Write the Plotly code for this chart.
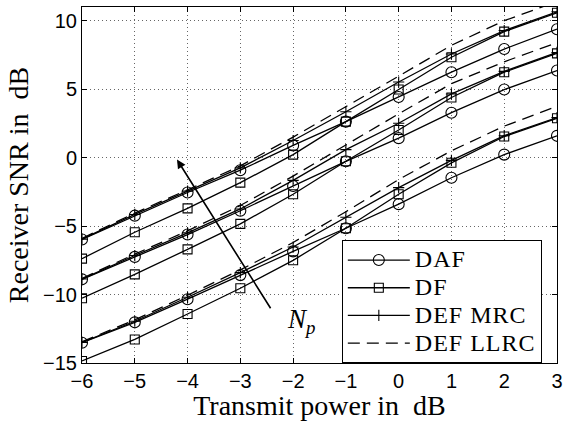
import plotly.graph_objects as go

# Transmit power (dB)
power_db = [-6, -5, -4, -3, -2, -1, 0, 1, 2, 3]

# Receiver SNR (dB), three groups of N_p (high / mid / low curves)
daf_hi = [-5.98, -4.24, -2.55, -0.92, 0.89, 2.63, 4.43, 6.24, 7.93, 9.38]
df_hi = [-7.38, -5.45, -3.71, -1.83, 0.22, 2.63, 4.97, 7.33, 9.20, 10.58]
mrc_hi = [-5.95, -4.15, -2.45, -0.75, 1.25, 3.35, 5.52, 7.57, 9.28, 10.65]
llrc_hi = [-5.90, -4.05, -2.35, -0.60, 1.50, 3.70, 5.95, 8.20, 10.00, 11.40]

daf_mid = [-8.89, -7.25, -5.62, -3.88, -2.07, -0.27, 1.42, 3.28, 4.97, 6.36]
df_mid = [-10.27, -8.53, -6.70, -4.84, -2.68, -0.27, 2.02, 4.39, 6.24, 7.61]
mrc_mid = [-8.87, -7.15, -5.50, -3.75, -1.66, 0.58, 2.51, 4.65, 6.30, 7.68]
llrc_mid = [-8.82, -7.05, -5.35, -3.50, -1.35, 0.95, 3.20, 5.40, 7.00, 8.40]

daf_lo = [-13.52, -12.03, -10.34, -8.58, -6.85, -5.16, -3.40, -1.47, 0.22, 1.59]
df_lo = [-14.85, -13.28, -11.42, -9.54, -7.50, -5.16, -2.68, -0.38, 1.54, 2.87]
mrc_lo = [-13.50, -11.95, -10.20, -8.40, -6.53, -4.36, -2.19, -0.20, 1.60, 2.93]
llrc_lo = [-13.45, -11.85, -10.05, -8.20, -6.20, -3.95, -1.60, 0.50, 2.30, 3.75]

x_ticks = [-6, -5, -4, -3, -2, -1, 0, 1, 2, 3]
y_ticks = [-15, -10, -5, 0, 5, 10]

series_names = ["DAF", "DF", "DEF MRC", "DEF LLRC"]

SERIF = "Liberation Serif, Times New Roman, serif"
SANS = "Liberation Sans, Arial, Helvetica, sans-serif"

LW = 1.3
styles = {
    "DAF": dict(mode="lines+markers", line=dict(color="black", width=LW),
                marker=dict(symbol="circle-open", size=11, color="black", line=dict(width=1.1))),
    "DF": dict(mode="lines+markers", line=dict(color="black", width=LW),
               marker=dict(symbol="square-open", size=9, color="black", line=dict(width=1.1))),
    "DEF MRC": dict(mode="lines+markers", line=dict(color="black", width=LW),
                    marker=dict(symbol="cross-thin-open", size=8, color="black", line=dict(width=1.1))),
    "DEF LLRC": dict(mode="lines", line=dict(color="black", width=LW, dash="12px,7px")),
}

groups = [
    {"DAF": daf_hi, "DF": df_hi, "DEF MRC": mrc_hi, "DEF LLRC": llrc_hi},
    {"DAF": daf_mid, "DF": df_mid, "DEF MRC": mrc_mid, "DEF LLRC": llrc_mid},
    {"DAF": daf_lo, "DF": df_lo, "DEF MRC": mrc_lo, "DEF LLRC": llrc_lo},
]

fig = go.Figure()
for name in series_names:
    for gi, grp in enumerate(groups):
        fig.add_trace(go.Scatter(
            x=power_db, y=grp[name],
            name='<span style="font-size:24px;letter-spacing:1px">%s</span>' % name,
            legendgroup=name, showlegend=(gi == 0),
            cliponaxis=True,
            **styles[name]))

axis_common = dict(
    showline=True, linecolor="black", linewidth=1, mirror="ticks",
    ticks="inside", ticklen=5, tickcolor="black", tickwidth=1,
    showgrid=True, gridcolor="rgba(0,0,0,0.6)", griddash="1px,3px", gridwidth=1,
    zeroline=False,
    tickfont=dict(family=SANS, size=20, color="black"),
)

fig.update_xaxes(range=[-6, 3], tickvals=x_ticks,
                 title=dict(text="Transmit power in\u00a0\u00a0dB",
                            font=dict(family=SERIF, size=28, color="black"), standoff=3),
                 **axis_common)
fig.update_yaxes(range=[-15, 11], tickvals=y_ticks,
                 title=dict(text="Receiver SNR in\u00a0\u00a0dB",
                            font=dict(family=SERIF, size=28, color="black"), standoff=6),
                 **axis_common)

# N_p arrow and label
fig.add_annotation(x=-4.2, y=-0.14, ax=-2.37, ay=-11.35, xref="x", yref="y",
                   axref="x", ayref="y", text=" ", showarrow=True,
                   arrowhead=2, arrowsize=1.1, arrowwidth=1.6, arrowcolor="black")
fig.add_annotation(x=-1.86, y=-11.9, xref="x", yref="y", text="<i>N<sub>p</sub></i>",
                   showarrow=False, font=dict(family=SERIF, size=27, color="black"))

fig.update_layout(
    width=569, height=421,
    margin=dict(l=82, r=6, t=6, b=56),
    paper_bgcolor="white", plot_bgcolor="white",
    showlegend=True,
    legend=dict(x=0.547, y=0.345, xanchor="left", yanchor="top",
                bgcolor="white", bordercolor="black", borderwidth=1,
                font=dict(family=SERIF, size=19, color="black"),
                itemwidth=62, tracegroupgap=0),
)

fig.write_html("out.html")
